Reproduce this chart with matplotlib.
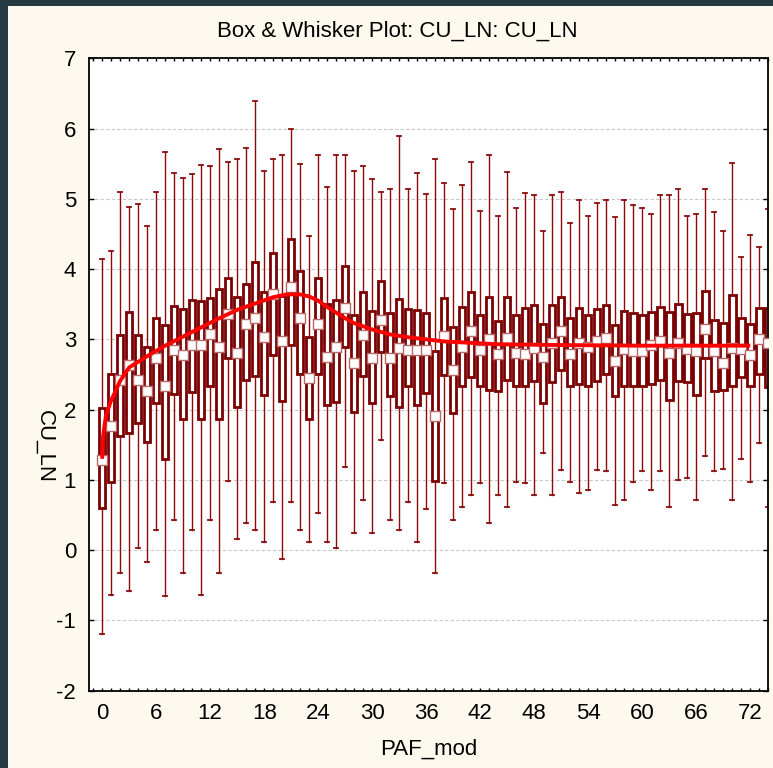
import numpy as np
import matplotlib
matplotlib.use("Agg")
import matplotlib.pyplot as plt
from matplotlib.patches import Rectangle
from matplotlib.ticker import MultipleLocator

plt.rcParams['font.family'] = ['Liberation Sans', 'DejaVu Sans']
plt.rcParams['axes.unicode_minus'] = False

# PAF_mod categories 0..74
paf = list(range(75))

# whisker ends, box edges and medians (CU_LN)
whis_hi = [4.15, 4.26, 5.10, 4.88, 4.93, 4.61, 5.10, 5.67, 5.37, 5.30,
           5.36, 5.48, 5.46, 5.71, 5.52, 5.57, 5.72, 6.39, 5.40, 5.57,
           5.62, 5.99, 5.49, 4.47, 5.63, 5.17, 5.63, 5.63, 5.40, 5.46,
           5.28, 5.09, 5.14, 5.89, 5.14, 5.37, 5.07, 5.57, 5.22, 4.86,
           5.20, 5.52, 4.83, 5.62, 4.76, 5.38, 4.87, 5.08, 5.06, 4.54,
           5.06, 5.09, 4.66, 4.98, 4.75, 4.94, 4.99, 4.74, 4.98, 4.91,
           4.87, 4.78, 5.05, 5.06, 5.14, 4.76, 4.79, 5.14, 4.81, 4.54,
           5.51, 4.17, 4.48, 4.32, 4.86]
q3 = [2.03, 2.50, 3.06, 3.39, 3.06, 2.89, 3.31, 3.21, 3.48, 3.43,
      3.56, 3.55, 3.59, 3.71, 3.88, 3.60, 3.79, 4.10, 3.68, 4.23,
      3.62, 4.43, 3.97, 3.03, 3.87, 3.51, 3.56, 4.04, 3.35, 3.68,
      3.40, 3.83, 3.38, 3.57, 3.43, 3.42, 3.38, 2.83, 3.59, 3.17,
      3.46, 3.68, 3.34, 3.60, 3.26, 3.60, 3.34, 3.45, 3.49, 3.22,
      3.49, 3.60, 3.31, 3.45, 3.34, 3.43, 3.49, 3.20, 3.41, 3.38,
      3.34, 3.39, 3.46, 3.39, 3.50, 3.36, 3.38, 3.69, 3.28, 3.23,
      3.63, 3.31, 3.22, 3.44, 3.45]
med = [1.28, 1.77, 2.42, 2.63, 2.42, 2.26, 2.73, 2.33, 2.85, 2.78,
       2.92, 2.92, 3.07, 2.89, 3.36, 2.81, 3.22, 3.31, 3.04, 3.65,
       2.98, 3.74, 3.31, 2.45, 3.22, 2.75, 2.89, 3.44, 2.66, 3.06,
       2.74, 3.27, 2.74, 2.88, 2.85, 2.85, 2.85, 1.91, 3.05, 2.57,
       2.89, 3.12, 2.85, 3.00, 2.79, 3.02, 2.81, 2.79, 2.88, 2.75,
       2.95, 3.12, 2.79, 2.95, 2.89, 2.98, 3.02, 2.69, 2.86, 2.83,
       2.83, 2.92, 2.98, 2.81, 2.95, 2.86, 2.84, 3.15, 2.83, 2.67,
       2.88, 2.86, 2.78, 3.00, 2.95]
q1 = [0.60, 0.97, 1.63, 1.67, 1.81, 1.54, 2.10, 1.30, 2.22, 1.87,
      2.25, 1.87, 2.33, 1.87, 2.73, 2.04, 2.42, 2.48, 2.21, 2.78,
      2.12, 2.92, 2.50, 1.86, 2.50, 2.06, 2.11, 2.89, 1.96, 2.48,
      2.09, 2.82, 2.19, 2.04, 2.34, 2.06, 2.24, 0.98, 2.49, 1.95,
      2.33, 2.46, 2.33, 2.28, 2.27, 2.42, 2.33, 2.33, 2.41, 2.09,
      2.40, 2.56, 2.33, 2.36, 2.33, 2.41, 2.50, 2.19, 2.33, 2.33,
      2.33, 2.36, 2.42, 2.14, 2.41, 2.40, 2.21, 2.74, 2.27, 2.28,
      2.33, 2.46, 2.33, 2.50, 2.32]
whis_lo = [-1.19, -0.64, -0.33, -0.58, 0.03, -0.17, 0.29, -0.65, 0.43, -0.33,
           0.29, -0.64, 0.43, -0.33, 0.98, 0.16, 0.38, 0.29, 0.11, 0.69,
           -0.12, 0.69, 0.29, 0.11, 0.53, 0.11, 0.03, 1.19, 0.25, 0.71,
           0.25, 1.57, 0.43, 0.29, 0.69, 0.11, 0.58, -0.33, 0.96, 0.43,
           0.62, 0.78, 0.96, 0.38, 0.78, 0.62, 0.97, 0.96, 0.78, 1.38,
           0.78, 1.14, 0.97, 0.82, 0.85, 1.14, 1.12, 0.64, 0.71, 0.97,
           1.12, 0.85, 1.12, 0.62, 1.00, 1.02, 0.71, 1.34, 1.12, 1.16,
           0.71, 1.29, 0.97, 1.53, 0.62]

# smoothed trend line
trend_x = [0, 0.1, 0.4, 0.9, 2, 3, 5, 7, 9, 11, 13, 15, 17, 19, 20.5, 22,
           23, 24, 25, 26, 27, 28, 30, 32, 34, 36, 38, 41, 44, 50, 60, 72]
trend_y = [1.30, 1.62, 1.90, 2.10, 2.41, 2.60, 2.76, 2.91, 3.04, 3.17, 3.30,
           3.42, 3.51, 3.60, 3.64, 3.64, 3.61, 3.55, 3.46, 3.38, 3.30, 3.23,
           3.14, 3.07, 3.03, 3.00, 2.97, 2.95, 2.93, 2.92, 2.91, 2.91]

stats = []
for i in range(len(paf)):
    stats.append(dict(whislo=whis_lo[i], q1=q1[i], med=med[i],
                      q3=q3[i], whishi=whis_hi[i]))

fig = plt.figure(figsize=(7.73, 7.68), dpi=100)
fig.patch.set_facecolor('#263942')
fig.add_artist(Rectangle((8 / 773, 0), 1, 1 - 6 / 768, transform=fig.transFigure,
                         facecolor='#fef9ee', edgecolor='none', zorder=-10))

ax = fig.add_axes([0.1147, 0.1007, 0.8792, 0.8234])
ax.set_facecolor('white')

dark_red = '#7a0000'
ax.bxp(stats, positions=paf, widths=0.72, showfliers=False, patch_artist=True,
       capwidths=0.45, manage_ticks=False,
       boxprops=dict(facecolor='white', edgecolor=dark_red, linewidth=2.0),
       whiskerprops=dict(color='#8b0a0a', linewidth=1.0),
       capprops=dict(color='#8b0a0a', linewidth=1.3),
       medianprops=dict(linestyle='none'))
ax.scatter(paf, med, marker='s', s=42, facecolor='white',
           edgecolor='#b86a6a', linewidth=1.0, zorder=4)
ax.plot(trend_x, trend_y, color='#ff0000', linewidth=2.8, zorder=5,
        solid_capstyle='butt')

ax.set_xlim(-1.5, 74.0)
ax.set_ylim(-2, 7)
ax.set_xticks(range(0, 73, 6))
ax.xaxis.set_minor_locator(MultipleLocator(1))
ax.set_yticks(range(-2, 8))
ax.tick_params(axis='x', which='both', direction='in', top=True, length=2.5,
               width=1, labelsize=16, pad=9)
ax.tick_params(axis='y', which='both', direction='in', right=True, length=3.5,
               width=1, labelsize=16, pad=9)
ax.yaxis.grid(True, color='#c8c8c8', linestyle=(0, (3, 2)), linewidth=0.8)
ax.set_axisbelow(True)
for sp in ax.spines.values():
    sp.set_linewidth(1.3)

fig.text(397.5 / 773, 1 - 31 / 768, 'Box & Whisker Plot: CU_LN: CU_LN',
         fontsize=16, ha='center', va='center')
fig.text(429 / 773, 1 - 749 / 768, 'PAF_mod', fontsize=16,
         ha='center', va='center')
fig.text(45 / 773, 1 - 447 / 768, 'CU_LN', fontsize=16, rotation=270,
         ha='center', va='center')

fig.savefig('out.png', dpi=100, facecolor=fig.get_facecolor())
